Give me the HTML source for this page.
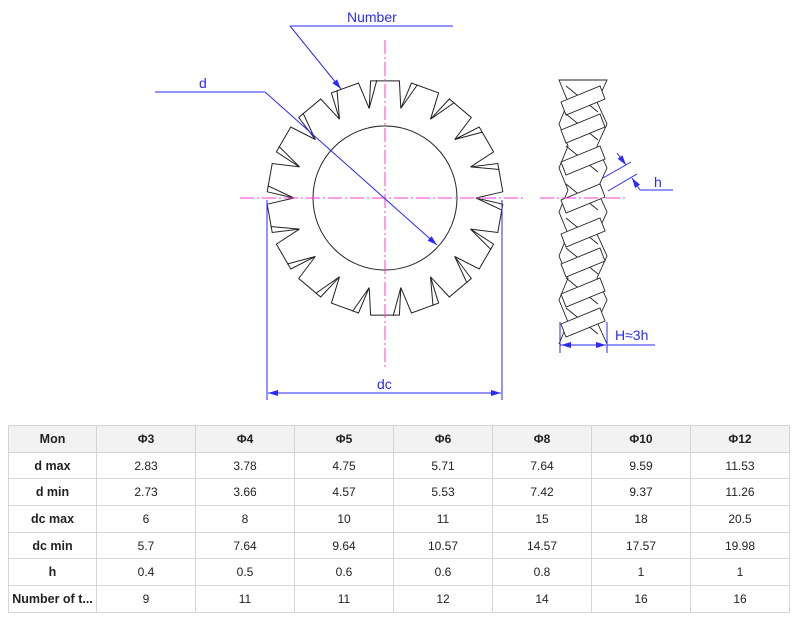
<!DOCTYPE html>
<html><head><meta charset="utf-8"><style>
html,body{margin:0;padding:0;background:#fff;width:800px;height:621px;overflow:hidden;font-family:"Liberation Sans",Arial,sans-serif}
svg{position:absolute;left:0;top:0}
table{position:absolute;left:8px;top:425px;border-collapse:collapse;width:782px;table-layout:fixed}
td{border:1px solid #d6d6d6;height:25.7px;padding:0;text-align:center;font-size:12px;color:#222;white-space:nowrap;overflow:hidden}
tr:first-child td{background:#f2f2f2;font-weight:bold}
td:first-child{font-weight:bold;font-size:12.5px}
</style></head><body>
<svg width="800" height="420" viewBox="0 0 800 420" id="s">
<defs>
<marker id="a" markerWidth="10" markerHeight="6" refX="10" refY="3" orient="auto" markerUnits="userSpaceOnUse"><path d="M0,0 L10,3 L0,6 z" fill="#2a2aff"/></marker>
</defs>
<g id="washer" fill="none" stroke="#222" stroke-width="1"></g>
<circle cx="385" cy="198" r="72" fill="none" stroke="#222" stroke-width="1"/>
<g stroke="#ff3dd0" stroke-width="1" stroke-dasharray="14,3,2,3" fill="none">
<line x1="240" y1="198" x2="526" y2="198"/>
<line x1="385" y1="40" x2="385" y2="370"/>
</g>
<g id="side" fill="#fff" stroke="#222" stroke-width="0.9"></g>
<line x1="540" y1="198" x2="626" y2="198" stroke="#ff3dd0" stroke-width="1" stroke-dasharray="14,3,2,3"/>
<g stroke="#2a2aff" stroke-width="1" fill="none">
<line x1="290" y1="26" x2="453" y2="26"/>
<line x1="290" y1="26" x2="341" y2="89" marker-end="url(#a)"/>
<line x1="155" y1="92" x2="265" y2="92"/>
<line x1="265" y1="92" x2="437" y2="245" marker-end="url(#a)"/>
<line x1="267" y1="200" x2="267" y2="400"/>
<line x1="502" y1="200" x2="502" y2="400"/>
<line x1="384" y1="393" x2="268" y2="393" marker-end="url(#a)"/>
<line x1="384" y1="393" x2="501" y2="393" marker-end="url(#a)"/>
<line x1="603" y1="178" x2="631" y2="162"/>
<line x1="608" y1="191" x2="637" y2="174"/>
<line x1="617" y1="153" x2="626" y2="165" marker-end="url(#a)"/>
<line x1="640" y1="190" x2="632" y2="178" marker-end="url(#a)"/>
<line x1="640" y1="190" x2="673" y2="190"/>
<line x1="560" y1="322" x2="560" y2="353"/>
<line x1="607" y1="322" x2="607" y2="353"/>
<line x1="583" y1="345" x2="561" y2="345" marker-end="url(#a)"/>
<line x1="583" y1="345" x2="606" y2="345" marker-end="url(#a)"/>
<line x1="607" y1="345" x2="655" y2="345"/>
</g>
<g fill="#2a2aff" font-size="14" font-family="Liberation Sans,Arial,sans-serif">
<text x="347" y="22">Number</text>
<text x="199" y="88">d</text>
<text x="377" y="389">dc</text>
<text x="654" y="187">h</text>
<text x="615" y="340">H≈3h</text>
</g>
</svg>
<script>
(function(){
var cx=385,cy=198,R=118,r=91,n=18,g=document.getElementById('washer'),d='',ex='';
function P(a,rr){var t=a*Math.PI/180;return (cx+rr*Math.cos(t)).toFixed(1)+','+(cy-rr*Math.sin(t)).toFixed(1);}
for(var k=0;k<n;k++){
 var c=90+k*20;
 var s=c-7,e=c+7,ap=c+9.5,nx=c+13;
 d+=(k==0?'M':'L')+P(s,R)+' L'+P(e,R)+' L'+P(ap+0.5,r)+' L'+P(nx,R);
 ex+='M'+P(c+4,R)+' L'+P(ap+0.5,r)+' ';
}
d+='Z';
g.innerHTML='<path d="'+d+'"/><path d="'+ex+'"/>';
var sd=document.getElementById('side'),h='';
var y0=80,y1=345;
h+='<rect x="559" y="'+y0+'" width="48" height="'+(y1-y0)+'" fill="#fff" stroke="none"/>';
var zl='M560,'+y0,zr='M606,'+y0;
for(var y=y0,i=0;y<=y1;y+=22,i++){zl+=' L'+(i%2?568:559)+','+y;zr+=' L'+(i%2?597:607)+','+y;}
h+='<path fill="none" d="'+zl+'"/><path fill="none" d="'+zr+'"/>';
h+='<line x1="560" y1="'+y0+'" x2="606" y2="'+y0+'"/><line x1="560" y1="'+y1+'" x2="606" y2="'+y1+'"/>';
var ys=[100,128,160,198,232,262,292,322];
for(var j=0;j<ys.length;j++){var yy=ys[j];
 h+='<line x1="566" y1="'+(yy-14)+'" x2="598" y2="'+(yy+12)+'"/>';
 h+='<polygon points="561,'+(yy+2)+' 600,'+(yy-14)+' 605,'+(yy-1)+' 566,'+(yy+15)+'"/>';}
sd.innerHTML=h;
})();
</script>
<table>
<tr><td style="width:87px">Mon</td><td>Φ3</td><td>Φ4</td><td>Φ5</td><td>Φ6</td><td>Φ8</td><td>Φ10</td><td>Φ12</td></tr>
<tr><td>d max</td><td>2.83</td><td>3.78</td><td>4.75</td><td>5.71</td><td>7.64</td><td>9.59</td><td>11.53</td></tr>
<tr><td>d min</td><td>2.73</td><td>3.66</td><td>4.57</td><td>5.53</td><td>7.42</td><td>9.37</td><td>11.26</td></tr>
<tr><td>dc max</td><td>6</td><td>8</td><td>10</td><td>11</td><td>15</td><td>18</td><td>20.5</td></tr>
<tr><td>dc min</td><td>5.7</td><td>7.64</td><td>9.64</td><td>10.57</td><td>14.57</td><td>17.57</td><td>19.98</td></tr>
<tr><td>h</td><td>0.4</td><td>0.5</td><td>0.6</td><td>0.6</td><td>0.8</td><td>1</td><td>1</td></tr>
<tr><td>Number of t...</td><td>9</td><td>11</td><td>11</td><td>12</td><td>14</td><td>16</td><td>16</td></tr>
</table>
</body></html>
